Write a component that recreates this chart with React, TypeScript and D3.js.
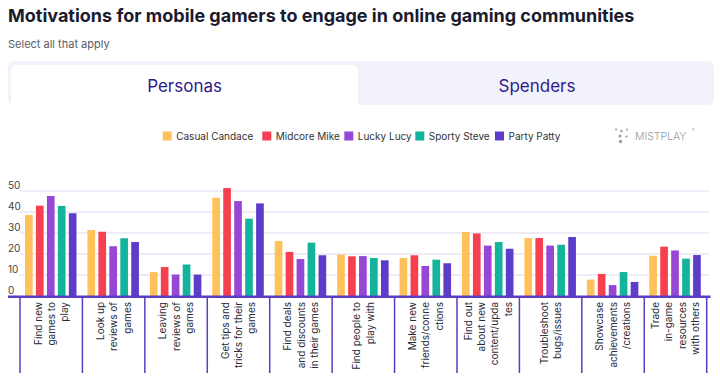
import * as d3 from "d3";

const categories = [
  ["Find new", "games to", "play"],
  ["Look up", "reviews of", "games"],
  ["Leaving", "reviews of", "games"],
  ["Get tips and", "tricks for their", "games"],
  ["Find deals", "and discounts", "in their games"],
  ["Find people to", "play with"],
  ["Make new", "friends/conne", "ctions"],
  ["Find out", "about new", "content/upda", "tes"],
  ["Troubleshoot", "bugs/issues"],
  ["Showcase", "achievements", "/creations"],
  ["Trade", "in-game", "resources", "with others"],
];

const seriesNames = ["Casual Candace", "Midcore Mike", "Lucky Lucy", "Sporty Steve", "Party Patty"];
const seriesColors = ["#FFC25A", "#F6404F", "#9747D6", "#13B49B", "#5C3CC9"];

const casualCandace = [38.6, 31.4, 11.4, 46.8, 26.2, 19.7, 18.1, 30.5, 27.6, 7.8, 19.2];
const midcoreMike = [43, 30.6, 13.8, 51.4, 21, 18.9, 19.4, 29.8, 27.6, 10.5, 23.5];
const luckyLucy = [47.6, 23.7, 10.2, 45.2, 17.6, 19, 14.3, 24, 24, 5.2, 21.7];
const sportySteve = [42.9, 27.5, 15, 36.8, 25.4, 18.1, 17.3, 25.7, 24.4, 11.4, 17.8];
const partyPatty = [39.4, 25.7, 10.2, 44.1, 19.4, 17, 15.6, 22.5, 28.1, 6.7, 19.5];

const yTicks = [0, 10, 20, 30, 40, 50];

const FONT = "Inter, 'Noto Sans', sans-serif";
const AXIS = "#5B3CC4";

export default function App() {
  const series = [casualCandace, midcoreMike, luckyLucy, sportySteve, partyPatty];

  const x = d3
    .scaleBand<number>()
    .domain(d3.range(categories.length))
    .range([20, 706.7])
    .padding(0);
  const x1 = d3
    .scaleBand<number>()
    .domain(d3.range(series.length))
    .range([5, 56.5])
    .paddingInner(0.3)
    .paddingOuter(0);
  const y = d3.scaleLinear().domain([0, 50]).range([296, 191]);

  const legendX = [162.7, 262.3, 344.3, 415.3, 495];
  const lineGap = 13.3;

  return (
    <svg
      width={720}
      height={391}
      style={{ position: "absolute", left: 0, top: 0, background: "#fff" }}
      fontFamily={FONT}
    >
      <rect width={720} height={391} fill="#fff" />
      {/* title */}
      <text x={8} y={22} fontSize={18} fontWeight={700} fill="#1B1B2F">
        Motivations for mobile gamers to engage in online gaming communities
      </text>
      <text x={8} y={48} fontSize={11} fill="#5a5a66">
        Select all that apply
      </text>

      {/* tabs */}
      <rect x={8} y={61} width={706} height={44} rx={6} fill="#F2F2FA" />
      <path d="M11,105 V71 Q11,65 17,65 H352 Q358,65 358,71 V105 Z" fill="#fff" />
      <text x={184.6} y={92} fontSize={17} textAnchor="middle" fill="#2E1A8E">
        Personas
      </text>
      <text x={537} y={92} fontSize={17} textAnchor="middle" fill="#2E1A8E">
        Spenders
      </text>

      {/* legend */}
      {seriesNames.map((name, i) => (
        <g key={name}>
          <rect x={legendX[i]} y={131.5} width={9} height={9} fill={seriesColors[i]} />
          <text x={legendX[i] + 13.5} y={139.8} fontSize={10} fill="#333">
            {name}
          </text>
        </g>
      ))}

      {/* logo */}
      <g fill="#9a9a9a">
        <circle cx={616} cy={129.5} r={1} />
        <circle cx={621.5} cy={131} r={1.2} />
        <circle cx={627} cy={129.5} r={1} />
        <circle cx={620} cy={136} r={1.5} />
        <circle cx={626.5} cy={136.5} r={1.1} />
        <circle cx={620.5} cy={141.5} r={1.7} />
        <text x={635} y={140} fontSize={10.5} fontWeight={300}>
          MISTPLAY
        </text>
        <text x={692} y={131} fontSize={4}>
          ®
        </text>
      </g>

      {/* gridlines + y ticks */}
      {yTicks.map((t) => (
        <g key={t}>
          {t > 0 && <line x1={20} x2={709} y1={y(t)} y2={y(t)} stroke="#DCD9EF" strokeWidth={1} />}
          <text x={8} y={y(t) - 2} fontSize={10} fill="#444">
            {t}
          </text>
        </g>
      ))}

      {/* bars */}
      {categories.map((_, ci) =>
        series.map((vals, si) => (
          <rect
            key={`${ci}-${si}`}
            x={(x(ci) as number) + (x1(si) as number)}
            y={y(vals[ci])}
            width={x1.bandwidth()}
            height={y(0) - y(vals[ci])}
            fill={seriesColors[si]}
          />
        ))
      )}

      {/* axis */}
      <line x1={8} x2={710.5} y1={296.8} y2={296.8} stroke={AXIS} strokeWidth={2.5} />
      {d3.range(categories.length + 1).map((i) => {
        const xx = i < categories.length ? (x(i) as number) : x.range()[1];
        return <line key={i} x1={xx} x2={xx} y1={296} y2={373} stroke={AXIS} strokeWidth={1.5} />;
      })}

      {/* category labels */}
      {categories.map((lines, ci) => {
        const cx = (x(ci) as number) + x.bandwidth() / 2;
        return lines.map((ln, li) => {
          const lx = cx + (li - (lines.length - 1) / 2) * lineGap + 3.6;
          return (
            <text
              key={`${ci}-${li}`}
              transform={`translate(${lx},302) rotate(-90)`}
              textAnchor="end"
              fontSize={10}
              fill="#2a2a3a"
            >
              {ln}
            </text>
          );
        });
      })}
    </svg>
  );
}
